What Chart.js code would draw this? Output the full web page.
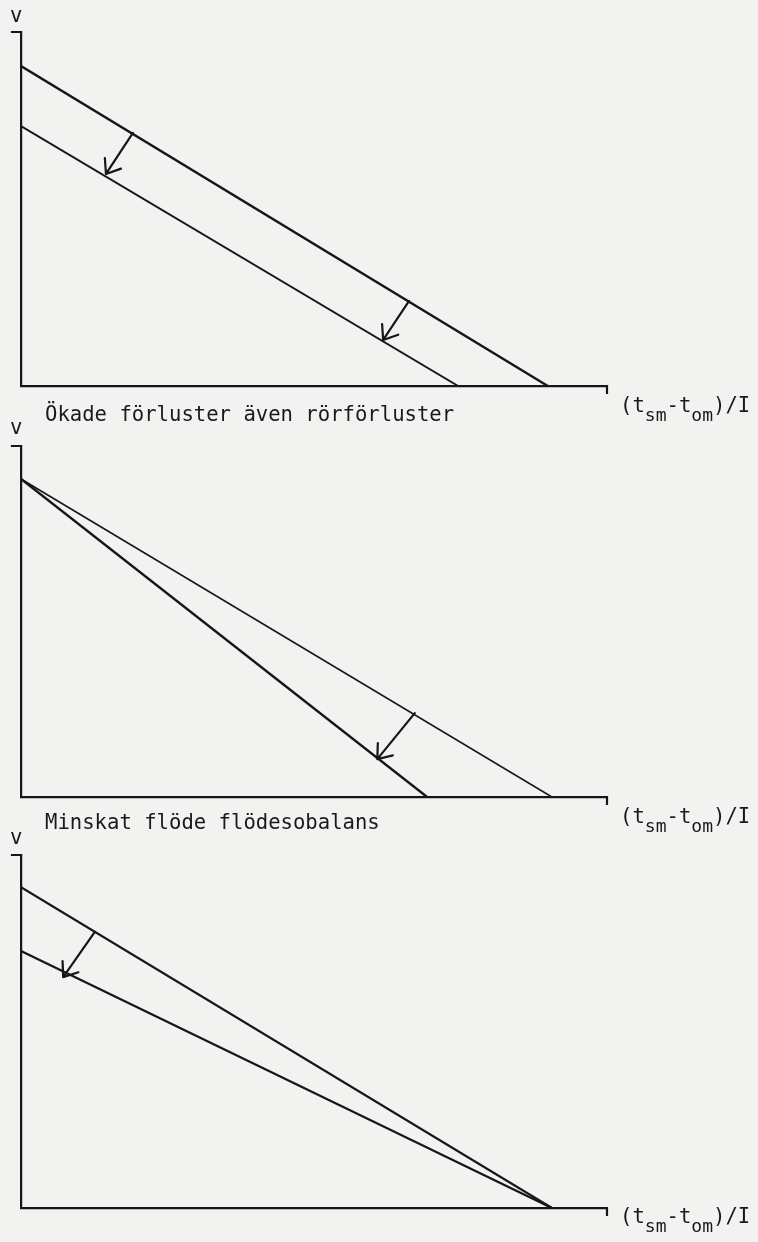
<!DOCTYPE html>
<html>
<head>
<meta charset="utf-8">
<script src="https://cdn.jsdelivr.net/npm/chart.js@4/dist/chart.umd.min.js"></script>
<style>
  body { margin: 0; background: #f2f2f0; width: 758px; height: 1242px; position: relative; overflow: hidden;
         font-family: "DejaVu Sans Mono", "Liberation Mono", monospace; color: #1a1a1a; }
  canvas { position: absolute; left: 0; }
  .lbl { position: absolute; font-size: 20.6px; line-height: 1; white-space: nowrap; }
  .lbl sub { font-size: 18px; position: relative; top: 9px; vertical-align: baseline; }
</style>
</head>
<body>
<canvas id="c1" width="758" height="394" style="top:12px"></canvas>
<canvas id="c2" width="758" height="391" style="top:426px"></canvas>
<canvas id="c3" width="758" height="393" style="top:835px"></canvas>

<div class="lbl" style="left:10px;top:5px">v</div>
<div class="lbl" style="left:45px;top:404px">Ökade förluster även rörförluster</div>
<div class="lbl" style="left:620px;top:395px">(t<sub>sm</sub>-t<sub>om</sub>)/I</div>

<div class="lbl" style="left:10px;top:417px">v</div>
<div class="lbl" style="left:45px;top:812px">Minskat flöde flödesobalans</div>
<div class="lbl" style="left:620px;top:806px">(t<sub>sm</sub>-t<sub>om</sub>)/I</div>

<div class="lbl" style="left:10px;top:827px">v</div>
<div class="lbl" style="left:620px;top:1206px">(t<sub>sm</sub>-t<sub>om</sub>)/I</div>

<script>
// lines as [x, y] end points, axes run 0..1
var p1Upper = [[0, 0.904], [0.899, 0]];
var p1Lower = [[0, 0.734], [0.746, 0]];
var p1Arrows = [[[0.191, 0.715], [0.145, 0.599]], [[0.662, 0.240], [0.618, 0.130]]];

var p2Thin = [[0, 0.906], [0.906, 0]];
var p2Thick = [[0, 0.906], [0.693, 0]];
var p2Arrows = [[[0.672, 0.239], [0.608, 0.108]]];

var p3Upper = [[0, 0.909], [0.906, 0]];
var p3Lower = [[0, 0.728], [0.906, 0]];
var p3Arrows = [[[0.126, 0.782], [0.072, 0.654]]];

var ink = '#161616';

function toPoints(arr) {
    return arr.map(function (p) { return {x: p[0], y: p[1]}; });
}

function lineSet(arr, w) {
    return {
        data: toPoints(arr),
        borderColor: ink,
        borderWidth: w,
        pointRadius: 0,
        showLine: true,
        tension: 0,
        fill: false
    };
}

// axis end ticks and the little arrows
var extras = {
    id: 'extras',
    afterDatasetsDraw(chart, args, opts) {
        const ctx = chart.ctx;
        const xs = chart.scales.x, ys = chart.scales.y;
        const a = chart.chartArea;
        ctx.save();
        ctx.strokeStyle = ink;
        ctx.lineWidth = 2.2;
        ctx.lineCap = 'square';
        ctx.beginPath();
        ctx.moveTo(a.left - 9, a.top);
        ctx.lineTo(a.left, a.top);
        ctx.moveTo(a.right, a.bottom);
        ctx.lineTo(a.right, a.bottom + 7);
        ctx.stroke();

        ctx.lineCap = 'round';
        (opts.arrows || []).forEach(function (ar) {
            const x0 = xs.getPixelForValue(ar[0][0]), y0 = ys.getPixelForValue(ar[0][1]);
            const x1 = xs.getPixelForValue(ar[1][0]), y1 = ys.getPixelForValue(ar[1][1]);
            const ang = Math.atan2(y1 - y0, x1 - x0);
            ctx.beginPath();
            ctx.moveTo(x0, y0);
            ctx.lineTo(x1, y1);
            [0.65, -0.65].forEach(function (d) {
                ctx.moveTo(x1, y1);
                ctx.lineTo(x1 - 16 * Math.cos(ang + d), y1 - 16 * Math.sin(ang + d));
            });
            ctx.stroke();
        });
        ctx.restore();
    }
};

function makeChart(id, sets, arrows, padTop, padBottom) {
    return new Chart(document.getElementById(id).getContext('2d'), {
        type: 'scatter',
        data: { datasets: sets },
        options: {
            responsive: false,
            animation: false,
            events: [],
            layout: { padding: { left: 21, right: 151, top: padTop, bottom: padBottom } },
            plugins: { legend: { display: false }, tooltip: { enabled: false }, extras: { arrows: arrows } },
            scales: {
                x: {
                    type: 'linear', min: 0, max: 1,
                    ticks: { display: false },
                    grid: { display: false },
                    border: { display: true, color: ink, width: 2.2 },
                    afterFit: function (s) { s.height = 0; }
                },
                y: {
                    type: 'linear', min: 0, max: 1,
                    ticks: { display: false },
                    grid: { display: false },
                    border: { display: true, color: ink, width: 2.2 },
                    afterFit: function (s) { s.width = 0; }
                }
            }
        },
        plugins: [extras]
    });
}

makeChart('c1', [lineSet(p1Upper, 2.4), lineSet(p1Lower, 1.9)], p1Arrows, 20, 20);
makeChart('c2', [lineSet(p2Thin, 1.6), lineSet(p2Thick, 2.4)], p2Arrows, 20, 20);
makeChart('c3', [lineSet(p3Upper, 2.2), lineSet(p3Lower, 2.2)], p3Arrows, 20, 20);
</script>
</body>
</html>
